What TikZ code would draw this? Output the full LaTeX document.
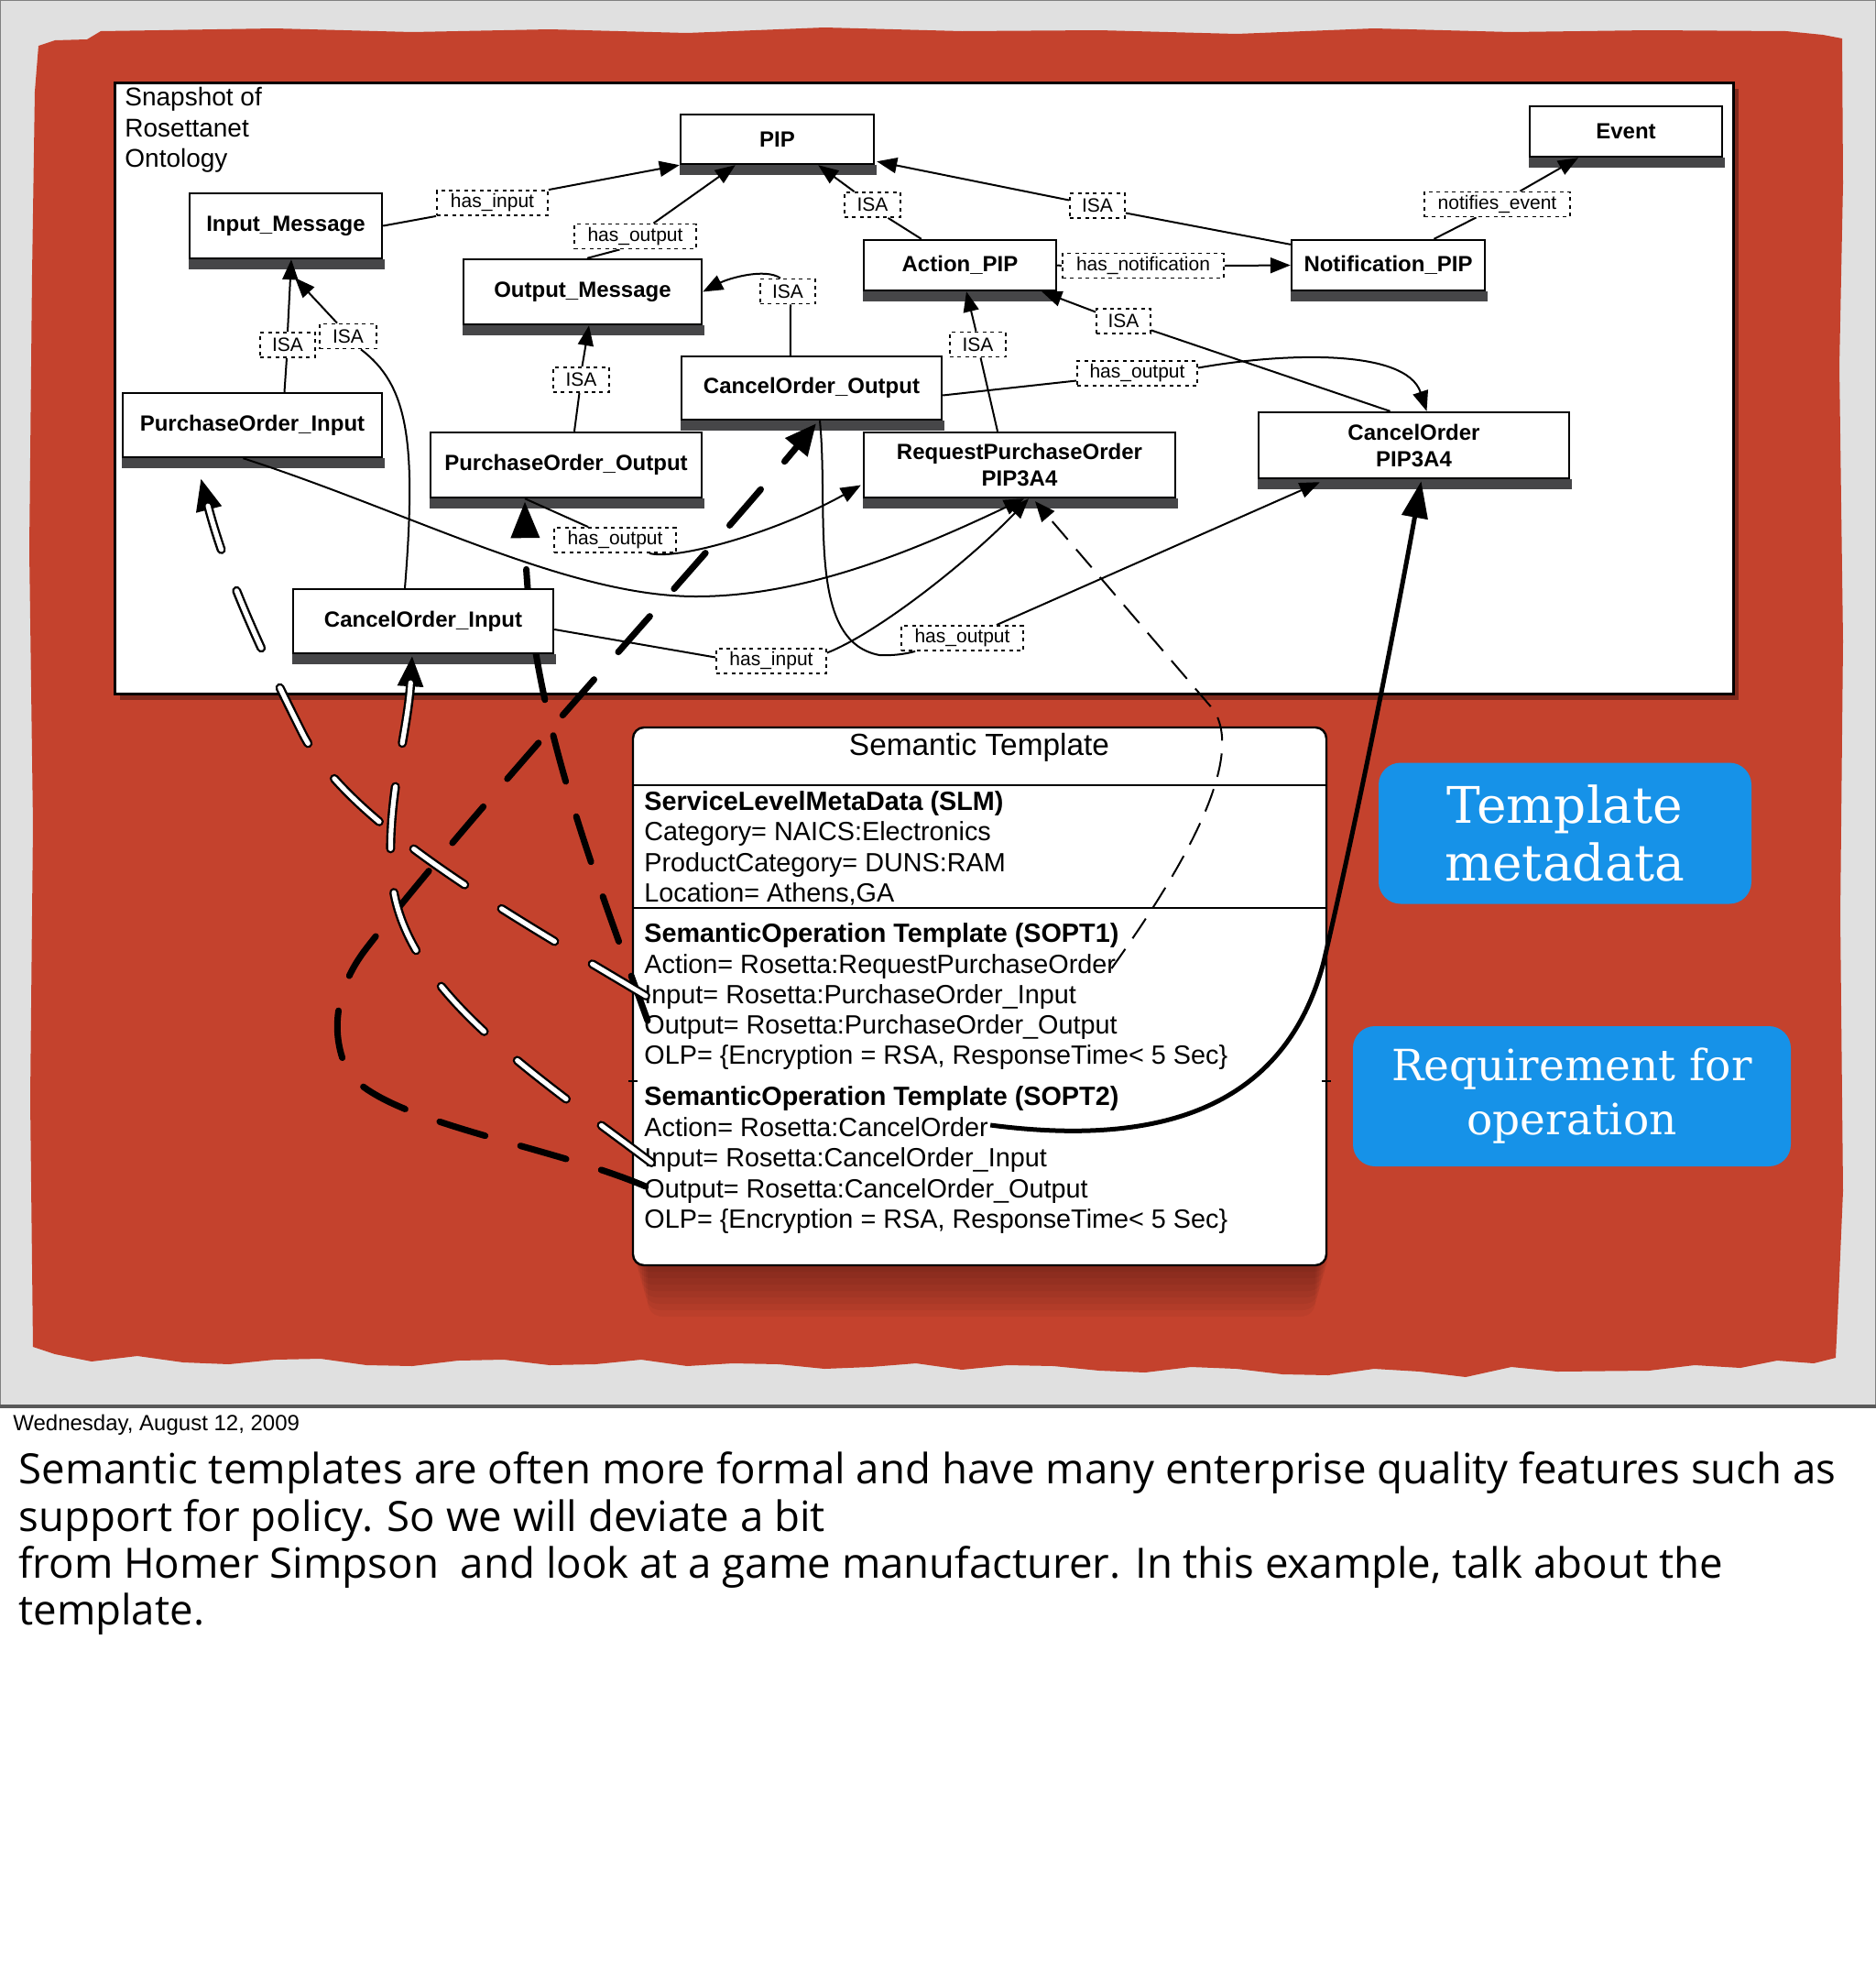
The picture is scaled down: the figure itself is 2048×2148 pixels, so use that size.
\documentclass[tikz,border=0pt]{standalone}
\usepackage{fontspec}
\setmainfont{Liberation Sans}
\newfontfamily\notesfamily{Open Sans}
\newfontfamily\typewfamily{DejaVu Serif}
\usetikzlibrary{arrows.meta,calc}
\definecolor{slidered}{RGB}{196,66,45}
\definecolor{slidegrey}{RGB}{224,224,224}
\definecolor{nshadow}{RGB}{70,70,72}
\definecolor{calloutblue}{RGB}{22,146,232}
\pgfdeclarelayer{bg}
\pgfdeclarelayer{shadowl}
\pgfdeclarelayer{edgel}
\pgfsetlayers{bg,shadowl,edgel,main}
\newcommand\obfont{\fontsize{12pt}{14.5pt}\selectfont\bfseries}
\newcommand\lbfont{\fontsize{10.5pt}{12pt}\selectfont}
\newcommand\tplfont{\fontsize{14.4pt}{16.75pt}\selectfont}
\begin{document}
\begin{tikzpicture}[x=0.5pt,y=-0.5pt,
  obox/.style={draw, line width=1.2pt, fill=white, font=\obfont, inner sep=0pt, align=center},
  lbl/.style={draw, line width=0.9pt, dash pattern=on 2pt off 2.2pt, fill=white, font=\lbfont, inner sep=0pt, minimum height=13.5pt},
  edge/.style={line width=1pt},
  arr/.style={edge, -{Triangle[length=11pt,width=8.5pt]}},
  thickdash/.style={line width=3.5pt, line cap=round, dash pattern=on 26pt off 20pt},
  wdashout/.style={line width=5pt, line cap=round, dash pattern=on 34pt off 24pt},
  wdashin/.style={white, line width=2.6pt, line cap=round, dash pattern=on 34pt off 24pt},
  tline/.style={anchor=base west, inner sep=0pt, font=\tplfont},
  callout/.style={fill=calloutblue, rounded corners=12pt, text=white, align=center, inner sep=0pt},
  noteline/.style={anchor=base west, inner sep=0pt, font=\notesfamily\fontsize{22.8pt}{26pt}\selectfont}
]
\useasboundingbox (0,0) rectangle (2048,2148);

% ---------------- background ----------------
\begin{pgfonlayer}{bg}
\fill[white] (0,0) rectangle (2048,2148);
\fill[slidegrey] (0,0) rectangle (2048,1535);
\draw[gray, line width=0.8pt] (0,0) rectangle (2048,1535);
\draw[black!65, line width=2pt] (0,1535) -- (2048,1535);
\fill[slidered] (42,50) -- (60,44) -- (95,43) -- (110,34) -- (300,31) -- (450,35) -- (600,32) -- (750,36)
  -- (900,30) -- (1050,34) -- (1200,33) -- (1350,37) -- (1500,31) -- (1650,35) -- (1800,33) -- (1950,34)
  -- (1990,38) -- (2011,42) -- (2012,200) -- (2008,400) -- (2012,700) -- (2009,1000) -- (2012,1300)
  -- (2006,1440) -- (2004,1482) -- (1980,1488) -- (1940,1485) -- (1900,1493) -- (1850,1490) -- (1800,1496)
  -- (1700,1497) -- (1650,1492) -- (1600,1503) -- (1550,1497) -- (1500,1494) -- (1450,1501) -- (1400,1500)
  -- (1350,1494) -- (1300,1492) -- (1250,1498) -- (1200,1496) -- (1150,1491) -- (1100,1490) -- (1050,1495)
  -- (1000,1488) -- (950,1492) -- (900,1494) -- (850,1489) -- (800,1488) -- (750,1491) -- (700,1484)
  -- (650,1489) -- (600,1490) -- (550,1484) -- (500,1485) -- (450,1491) -- (400,1490) -- (350,1483)
  -- (300,1484) -- (250,1489) -- (200,1487) -- (150,1480) -- (100,1486) -- (60,1478) -- (36,1470)
  -- (33,1200) -- (36,900) -- (32,600) -- (35,300) -- (38,100) -- cycle;
% ontology panel
\fill[black, opacity=0.35] (131,97) rectangle (1898,764);
\draw[line width=1.5pt, fill=white] (125,90) rectangle (1892,757);
\node[anchor=north west, align=left, inner sep=0pt, font=\fontsize{14pt}{16.75pt}\selectfont] (snap) at (136,95)
  {Snapshot of\\Rosettanet\\Ontology};
% template box
\foreach \i in {1,...,8}
  \fill[black, opacity=0.045, rounded corners=8pt] (691+\i*2,800+\i*3) rectangle (1452-\i*2,1381+\i*7);
\node[draw, line width=1.2pt, fill=white, rounded corners=6pt, minimum width=378.5pt, minimum height=293.5pt,
  inner sep=0pt] (tmpl) at (1069.5,1087.5) {};
\draw[line width=1.2pt] ($(tmpl.north west)+(0,64)$) -- ($(tmpl.north east)+(0,64)$);
\draw[line width=1.2pt] ($(tmpl.north west)+(0,198)$) -- ($(tmpl.north east)+(0,198)$);
\draw[line width=1pt] ($(tmpl.north west)+(-4,387)$) -- ($(tmpl.north west)+(6,387)$);
\draw[line width=1pt] ($(tmpl.north east)+(-6,387)$) -- ($(tmpl.north east)+(4,387)$);
\node[inner sep=0pt, font=\fontsize{16.7pt}{18pt}\selectfont] (ttitle) at (1069,816) {Semantic Template};
\node[tline] (slm) at (703,884) {\bfseries ServiceLevelMetaData (SLM)};
\node[tline] (slm1) at (703,917.5) {Category= NAICS:Electronics};
\node[tline] (slm2) at (703,951) {ProductCategory= DUNS:RAM};
\node[tline] (slm3) at (703,984.5) {Location= Athens,GA};
\node[tline] (s1h) at (703,1028) {\bfseries SemanticOperation Template (SOPT1)};
\node[tline] (t1act) at (703,1062) {Action= Rosetta:RequestPurchaseOrder};
\node[tline] (t1in) at (703,1095) {Input= Rosetta:PurchaseOrder\_Input};
\node[tline] (t1out) at (703,1128) {Output= Rosetta:PurchaseOrder\_Output};
\node[tline] (t1olp) at (703,1161.5) {OLP= \{Encryption = RSA, ResponseTime< 5 Sec\}};
\node[tline] (s2h) at (703,1206) {\bfseries SemanticOperation Template (SOPT2)};
\node[tline] (t2act) at (703,1240) {Action= Rosetta:CancelOrder};
\node[tline] (t2in) at (703,1273) {Input= Rosetta:CancelOrder\_Input};
\node[tline] (t2out) at (703,1307) {Output= Rosetta:CancelOrder\_Output};
\node[tline] (t2olp) at (703,1340.5) {OLP= \{Encryption = RSA, ResponseTime< 5 Sec\}};
\end{pgfonlayer}

% ---------------- ontology nodes ----------------
\node[obox, minimum width=105.5pt, minimum height=27pt] (pip) at (848.5,152) {PIP};
\node[obox, minimum width=105pt, minimum height=27.5pt] (ev) at (1775,143.5) {Event};
\node[obox, minimum width=105pt, minimum height=35.5pt] (im) at (312,246.5) {Input\_Message};
\node[obox, minimum width=130pt, minimum height=35.5pt] (om) at (636,318.5) {Output\_Message};
\node[obox, minimum width=105pt, minimum height=27.5pt] (ap) at (1048,289.5) {Action\_PIP};
\node[obox, minimum width=105.5pt, minimum height=27.5pt] (np) at (1515.5,289.5) {Notification\_PIP};
\node[obox, minimum width=142pt, minimum height=34.5pt] (coo) at (886,423.5) {CancelOrder\_Output};
\node[obox, minimum width=141.5pt, minimum height=35pt] (poi) at (275.5,464) {PurchaseOrder\_Input};
\node[obox, minimum width=148pt, minimum height=35.5pt] (poo) at (618,507.5) {PurchaseOrder\_Output};
\node[obox, minimum width=170pt, minimum height=35.5pt] (rpo) at (1113,507.5) {RequestPurchaseOrder\\PIP3A4};
\node[obox, minimum width=169.5pt, minimum height=36pt] (copip) at (1543.5,486) {CancelOrder\\PIP3A4};
\node[obox, minimum width=142pt, minimum height=35pt] (coi) at (462,678) {CancelOrder\_Input};

\begin{pgfonlayer}{shadowl}
\foreach \n in {pip,ev,im,om,ap,np,coo,poi,poo,rpo,copip,coi}
  \fill[nshadow] (\n.south west) rectangle ($(\n.south east)+(2,11)$);
\end{pgfonlayer}

% ---------------- relation labels ----------------
\node[lbl, minimum width=60.5pt] (hasin1) at (537.5,221.5) {has\_input};
\node[lbl, minimum width=66.5pt] (hasout1) at (693.5,258) {has\_output};
\node[lbl, minimum width=30.5pt] (isaA) at (952.5,223.5) {ISA};
\node[lbl, minimum width=30pt] (isaB) at (1198,224.5) {ISA};
\node[lbl, minimum width=79.5pt] (notif) at (1634.5,223) {notifies\_event};
\node[lbl, minimum width=88pt] (hasnot) at (1248,290) {has\_notification};
\node[lbl, minimum width=30pt] (isaC) at (860,318) {ISA};
\node[lbl, minimum width=30pt] (isaD) at (314,376.5) {ISA};
\node[lbl, minimum width=31pt] (isaE) at (380,367) {ISA};
\node[lbl, minimum width=30.5pt] (isaF) at (634.5,414.5) {ISA};
\node[lbl, minimum width=30.5pt] (isaG) at (1067.5,376) {ISA};
\node[lbl, minimum width=29.5pt] (isaH) at (1226.5,350.5) {ISA};
\node[lbl, minimum width=65.5pt] (hasout2) at (1241.5,407.5) {has\_output};
\node[lbl, minimum width=66.5pt] (hasout3) at (671.5,589.5) {has\_output};
\node[lbl, minimum width=60pt] (hasin2) at (842,721.5) {has\_input};
\node[lbl, minimum width=66.5pt] (hasout4) at (1050.5,696.5) {has\_output};

% ---------------- callouts ----------------
\node[callout, minimum width=203.5pt, minimum height=77pt, font=\typewfamily\fontsize{27.5pt}{31.5pt}\selectfont]
  (tmeta) at (1708.5,909.5) {Template\\metadata};
\node[callout, minimum width=239pt, minimum height=76.5pt, font=\typewfamily\fontsize{23.5pt}{29.5pt}\selectfont]
  (req) at (1716,1196.5) {Requirement for\\operation};

% ---------------- notes ----------------
\node[anchor=base west, inner sep=0pt, font=\fontsize{12pt}{14pt}\selectfont] (date) at (14,1561) {Wednesday, August 12, 2009};
\node[noteline] (n1) at (20,1619) {Semantic templates are often more formal and have many enterprise quality features such as};
\node[noteline] (n2) at (20,1671) {support for policy. So we will deviate a bit};
\node[noteline] (n3) at (20,1722) {from Homer Simpson~ and look at a game manufacturer. In this example, talk about the};
\node[noteline] (n4) at (20,1773) {template.};

% ---------------- edges ----------------
\begin{pgfonlayer}{edgel}
\draw[edge] (im.east) -- (hasin1.south west);
\draw[arr] (hasin1.north east) -- (pip.south west);
\draw[edge] ($(om.north)+(5,0)$) -- ($(hasout1.south)+(-17,0)$);
\draw[arr] ($(hasout1.north)+(20,0)$) -- ($(pip.south west)+(61,0)$);
\draw[edge] ($(ap.north west)+(64,0)$) -- ($(isaA.south)+(17,0)$);
\draw[arr] ($(isaA.north)+(-20,0)$) -- ($(pip.south east)+(-62,0)$);
\draw[edge] ($(np.north west)+(0,6)$) -- ($(isaB.east)+(0,8)$);
\draw[arr] ($(isaB.west)+(0,-6)$) -- ($(pip.south east)+(2,-4)$);
\draw[edge] ($(np.north)+(50,0)$) -- ($(notif.south)+(-23,0)$);
\draw[arr] ($(notif.north)+(25,0)$) -- ($(ev.south)+(-52,0)$);
\draw[edge] (ap.east) -- (hasnot.west);
\draw[arr] (hasnot.east) -- (np.west);
\draw[edge] ($(coo.north west)+(120,0)$) -- ($(isaC.south)+(3,0)$);
\draw[arr] ($(isaC.north)+(-8,0)$) .. controls (835,292) and (795,304) .. (om.east);
\draw[edge] ($(poi.north)+(35,0)$) -- ($(isaD.south)+(-1,0)$);
\draw[arr] (isaD.north) -- ($(im.south)+(6,0)$);
\draw[edge] ($(coi.north)+(-20,0)$) .. controls (455,480) and (445,420) .. ($(isaE.south)+(14,0)$);
\draw[arr] ($(isaE.north)+(-12,0)$) -- ($(im.south)+(10,20)$);
\draw[edge] ($(poo.north)+(9,0)$) -- ($(isaF.south)+(-2,0)$);
\draw[arr] ($(isaF.north)+(1,0)$) -- ($(om.south)+(7,0)$);
\draw[edge] ($(rpo.north)+(-24,0)$) -- ($(isaG.south)+(3,0)$);
\draw[arr] ($(isaG.north)+(-2,0)$) -- ($(ap.south)+(7,0)$);
\draw[edge] ($(copip.north)+(-26,0)$) -- ($(isaH.east)+(0,10)$);
\draw[arr] ($(isaH.west)+(0,-10)$) -- ($(ap.south east)+(-17,0)$);
\draw[edge] ($(coo.east)+(0,8)$) -- ($(hasout2.west)+(0,8)$);
\draw[arr] ($(hasout2.east)+(0,-6)$) .. controls (1400,385) and (1535,380) .. ($(copip.north)+(14,0)$);
\draw[edge] ($(poo.south)+(-45,0)$) -- ($(hasout3.north west)+(38,0)$);
\draw[arr] ($(hasout3.south east)+(-30,0)$) .. controls (740,612) and (850,580) .. ($(rpo.west)+(-2,22)$);
\draw[arr] ($(poi.south)+(-10,0)$) .. controls (450,560) and (620,651) .. (760,651)
   .. controls (880,651) and (1000,600) .. ($(rpo.south)+(5,0)$);
\draw[edge] ($(coi.east)+(0,9)$) -- ($(hasin2.west)+(0,-4)$);
\draw[arr] ($(hasin2.east)+(0,-9)$) .. controls (960,690) and (1060,610) .. ($(rpo.south)+(10,0)$);
\draw[edge] ($(coo.south)+(9,0)$) .. controls (905,560) and (880,700) .. (960,715)
   .. controls (980,716) and (995,712) .. ($(hasout4.south west)+(16,0)$);
\draw[arr] ($(hasout4.north east)+(-30,0)$) -- ($(copip.south west)+(68,3)$);

% ---------------- overlay annotations ----------------
% A: SOPT1 output -> PurchaseOrder_Output
\draw[thickdash, -{Triangle[length=20pt,width=15pt]}] ($(t1out.base west)+(4,-14)$)
   .. controls (640,930) and (575,760) .. ($(poo.south)+(-45,3)$);
% B: SOPT2 output -> CancelOrder_Output
\draw[thickdash, -{Triangle[length=17pt,width=15pt]}] ($(t2out.base west)+(2,-12)$)
   .. controls (600,1250) and (420,1225) .. (380,1170)
   .. controls (360,1130) and (365,1080) .. (400,1035)
   .. controls (520,880) and (760,620) .. ($(coo.south)+(5,3)$);
% C: SOPT1 input -> PurchaseOrder_Input
\draw[wdashout, -{Triangle[length=18pt,width=13pt]}] ($(t1in.base west)+(2,-8)$)
   .. controls (560,1000) and (380,900) .. (330,800)
   .. controls (300,740) and (250,640) .. ($(poi.south)+(-56.5,21)$);
\draw[wdashin, shorten >=16pt] ($(t1in.base west)+(2,-8)$)
   .. controls (560,1000) and (380,900) .. (330,800)
   .. controls (300,740) and (250,640) .. ($(poi.south)+(-56.5,21)$);
% D: SOPT2 input -> CancelOrder_Input
\draw[wdashout, -{Triangle[length=17pt,width=13pt]}] ($(t2in.base west)+(8,-4)$)
   .. controls (580,1170) and (440,1080) .. (428,960)
   .. controls (420,880) and (445,800) .. ($(coi.south)+(-12,1)$);
\draw[wdashin, shorten >=15pt] ($(t2in.base west)+(8,-4)$)
   .. controls (580,1170) and (440,1080) .. (428,960)
   .. controls (420,880) and (445,800) .. ($(coi.south)+(-12,1)$);
% E: SOPT2 action -> CancelOrder PIP3A4
\draw[line width=2.5pt, -{Triangle[length=20pt,width=14pt]}] ($(t2act.base east)+(2,-12)$)
   .. controls (1250,1250) and (1400,1220) .. (1445,1050)
   .. controls (1480,900) and (1520,700) .. ($(copip.south)+(8,2)$);
% F: SOPT1 action -> RequestPurchaseOrder PIP3A4
\draw[line width=1pt, dash pattern=on 13pt off 7pt, -{Triangle[length=11pt,width=9pt]}]
   ($(t1act.base east)+(-5,-5)$) .. controls (1290,950) and (1360,830) .. (1325,775)
   -- ($(rpo.south)+(17,3)$);
\end{pgfonlayer}
\end{tikzpicture}
\end{document}
